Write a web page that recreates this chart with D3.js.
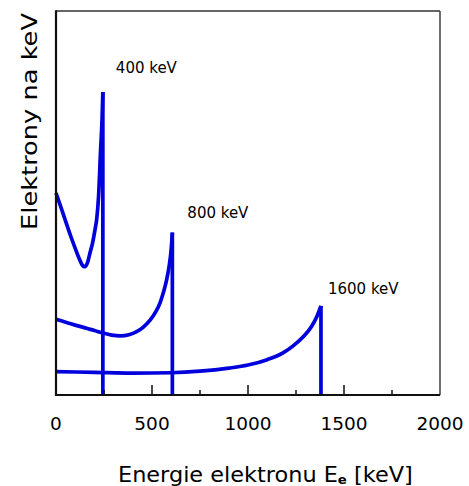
<!DOCTYPE html>
<html>
<head>
<meta charset="utf-8">
<script src="https://cdn.jsdelivr.net/npm/d3@7"></script>
<style>
  html, body { margin: 0; padding: 0; background: #fff; }
  svg { display: block; }
</style>
</head>
<body>
<svg id="chart" width="469" height="486"></svg>
<script>
// Compton electron spectra for three gamma energies
const gammaLabels = ["400 keV", "800 keV", "1600 keV"];
const comptonEdges = [244, 606, 1380];

const energy400 = [0, 25, 50, 75, 100, 120, 135, 145, 155, 165, 177, 190, 203, 212, 222, 232, 240, 244];
const counts400 = [52.6, 49.0, 45.3, 41.6, 38.2, 35.6, 34.0, 33.4, 33.6, 34.6, 37.0, 39.5, 43.0, 45.8, 52.0, 63.5, 72.0, 78.9];

const energy800 = [0, 100, 200, 240, 290, 335, 380, 420, 455, 490, 520, 542, 560, 577, 590, 600, 606];
const counts800 = [19.7, 18.2, 16.8, 16.2, 15.6, 15.4, 15.7, 16.5, 17.7, 19.5, 21.7, 24.0, 26.8, 30.2, 33.8, 38.0, 42.3];

const energy1600 = [0, 200, 400, 600, 750, 900, 1000, 1100, 1180, 1240, 1290, 1330, 1360, 1380];
const counts1600 = [6.1, 5.9, 5.7, 5.8, 6.2, 7.0, 7.8, 9.2, 10.9, 13.0, 15.3, 17.8, 20.6, 23.2];

const xMajorTicks = [0, 500, 1000, 1500, 2000];
const xMinorTicks = [250, 750, 1250, 1750];
const xTitle = "Energie elektronu E";
const xTitleSub = "e";
const xTitleUnit = " [keV]";
const yTitle = "Elektrony na keV";

const series = [
  { label: gammaLabels[0], edge: comptonEdges[0], x: energy400, y: counts400 },
  { label: gammaLabels[1], edge: comptonEdges[1], x: energy800, y: counts800 },
  { label: gammaLabels[2], edge: comptonEdges[2], x: energy1600, y: counts1600 }
];

// layout
const plotL = 56, plotR = 440, plotT = 11, plotB = 395;
const blue = "#0000dc";
const labelShift = [[13, -19], [15, -15], [7, -12]];

const svg = d3.select("#chart");
svg.append("rect").attr("width", 469).attr("height", 486).attr("fill", "#fff");

const x = d3.scaleLinear().domain([0, 2000]).range([plotL, plotR]);
const y = d3.scaleLinear().domain([0, 100]).range([plotB, plotT]);

// frame
svg.append("line").attr("x1", plotL).attr("x2", plotR).attr("y1", plotT).attr("y2", plotT)
  .attr("stroke", "#333").attr("stroke-width", 1.4);
svg.append("line").attr("x1", plotR).attr("x2", plotR).attr("y1", plotT).attr("y2", plotB)
  .attr("stroke", "#333").attr("stroke-width", 1.4);

// curves
const line = d3.line().x(d => x(d[0])).y(d => y(d[1])).curve(d3.curveMonotoneX);
const g = svg.append("g");
series.forEach((s, i) => {
  const pts = s.x.map((e, k) => [e, s.y[k]]);
  g.append("path").attr("d", line(pts)).attr("fill", "none")
    .attr("stroke", blue).attr("stroke-width", 3.7).attr("stroke-linejoin", "round");
  const peak = s.y[s.y.length - 1];
  g.append("line")
    .attr("x1", x(s.edge)).attr("x2", x(s.edge))
    .attr("y1", y(peak)).attr("y2", y(0))
    .attr("stroke", blue).attr("stroke-width", 3.7);
  svg.append("text")
    .attr("x", x(s.edge) + labelShift[i][0])
    .attr("y", y(peak) + labelShift[i][1])
    .attr("font-family", "DejaVu Sans, sans-serif")
    .attr("font-size", 15)
    .attr("fill", "#000")
    .text(s.label);
});

// axes lines
svg.append("line").attr("x1", plotL).attr("x2", plotL).attr("y1", plotT - 0.7).attr("y2", plotB + 1)
  .attr("stroke", "#111").attr("stroke-width", 2.2);
svg.append("line").attr("x1", plotL - 1).attr("x2", plotR).attr("y1", plotB).attr("y2", plotB)
  .attr("stroke", "#111").attr("stroke-width", 2.2);

// inward ticks
svg.selectAll(".major").data(xMajorTicks.slice(1, -1)).enter().append("line")
  .attr("x1", d => x(d)).attr("x2", d => x(d)).attr("y1", plotB).attr("y2", plotB - 10)
  .attr("stroke", "#111").attr("stroke-width", 1.5);
svg.selectAll(".minor").data(xMinorTicks).enter().append("line")
  .attr("x1", d => x(d)).attr("x2", d => x(d)).attr("y1", plotB).attr("y2", plotB - 5)
  .attr("stroke", "#111").attr("stroke-width", 1.5);

// tick labels
svg.selectAll(".tl").data(xMajorTicks).enter().append("text")
  .attr("x", d => x(d)).attr("y", 430)
  .attr("text-anchor", "middle")
  .attr("font-family", "DejaVu Sans, sans-serif")
  .attr("font-size", 18.5)
  .attr("fill", "#000")
  .text(d => d);

// x title
const xt = svg.append("text")
  .attr("x", 118).attr("y", 482)
  .attr("font-family", "DejaVu Sans, sans-serif")
  .attr("font-size", 22)
  .attr("fill", "#000");
xt.append("tspan").text(xTitle);
xt.append("tspan").attr("font-size", 13).attr("font-weight", "bold").attr("dy", 2).text(xTitleSub);
xt.append("tspan").attr("dy", -2).text(xTitleUnit);
{
  const w = xt.node().getComputedTextLength();
  const s = 295 / w;
  xt.attr("transform", `translate(118,0) scale(${s},1) translate(-118,0)`);
}

// y title
const yt = svg.append("text")
  .attr("transform", "translate(36.5,121.5) rotate(-90)")
  .attr("text-anchor", "middle")
  .attr("font-family", "DejaVu Sans, sans-serif")
  .attr("font-size", 22)
  .attr("fill", "#000")
  .text(yTitle);
{
  const w = yt.node().getComputedTextLength();
  const s = 217 / w;
  yt.attr("transform", `translate(36.5,121.5) rotate(-90) scale(${s},1)`);
}
</script>
</body>
</html>
